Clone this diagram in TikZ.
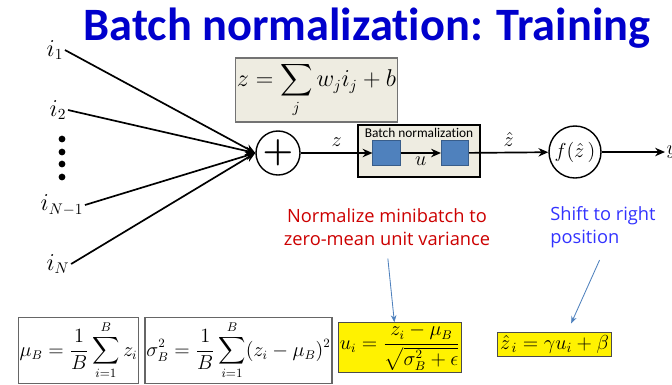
\documentclass[tikz,border=0pt]{standalone}
\usepackage{amsmath,amssymb}
\usepackage{fontspec}
\setmainfont{Carlito}[Ligatures=NoCommon]
\newfontfamily\notefont{Open Sans}
\usetikzlibrary{arrows.meta,positioning}
\definecolor{titleblue}{RGB}{0,0,204}
\definecolor{beige}{RGB}{238,236,225}
\definecolor{boxblue}{RGB}{79,129,189}
\definecolor{boxedge}{RGB}{56,93,138}
\definecolor{notered}{RGB}{204,0,0}
\definecolor{noteblue}{RGB}{51,51,255}

\begin{document}
\begin{tikzpicture}[x=0.025cm, y=-0.025cm,
    arr/.style={-{Stealth[length=7pt,width=6pt]}, line width=1.2pt},
    inp/.style={font=\fontsize{16}{18}\selectfont, inner sep=1pt},
    unit/.style={circle, draw, line width=1pt, inner sep=0pt},
    sq/.style={rectangle, draw=boxedge, fill=boxblue, line width=0.6pt, minimum width=0.68cm, minimum height=0.62cm},
    eqbox/.style={rectangle, draw=black!60, line width=0.8pt, inner sep=1pt, font=\fontsize{13.5}{16}\selectfont},
    hibox/.style={eqbox, fill=yellow, draw=black!70},
    note/.style={-{Stealth[length=5pt,width=4pt]}, draw=boxblue, line width=0.6pt, shorten <=6pt},
    lbl/.style={font=\fontsize{15}{18}\selectfont, inner sep=1pt},
  ]
    \useasboundingbox (0,0) rectangle (672,384);

    % Title
    \node[font=\fontsize{33}{37}\selectfont\bfseries, text=titleblue] (title) at (367,28) {Batch normalization: Training};

    % Inputs
    \node[inp] (i1) at (55,50) {$i_1$};
    \node[inp] (i2) at (58,110) {$i_2$};
    \node[inp] (iN1) at (62,205) {$i_{N-1}$};
    \node[inp] (iN) at (58,264) {$i_N$};
    \foreach \yy in {139,152,164,177}
      \fill (62,\yy) circle (2.4pt);

    % Neuron
    \node[unit, minimum size=1.1cm, font=\fontsize{24}{26}\selectfont\bfseries] (sum) at (278,153) {$\boldsymbol{+}$};
    \node[eqbox, fill=beige, draw=black!55, minimum width=3.83cm, minimum height=1.6cm, font=\fontsize{16}{19}\selectfont] (zeq) at (316.5,90)
      {$\displaystyle z = \sum_j w_j i_j + b$};

    \foreach \src in {i1,i2,iN1,iN}
      \draw[arr] (\src.east) -- (sum.west);

    % Batch normalization block
    \node[rectangle, draw, line width=2pt, fill=beige, minimum width=3.05cm, minimum height=1.3cm] (bn) at (419,151) {};
    \node[font=\fontsize{9.5}{11}\selectfont, inner sep=0pt] (bnlbl) at (419,133) {Batch normalization};
    \node[sq] (sq1) at (386.5,153) {};
    \node[sq] (sq2) at (455,153) {};
    \node[unit, minimum size=1.3cm, font=\fontsize{15}{18}\selectfont] (act) at (575,152) {$f(\hat{z}\,)$};
    \node[lbl, anchor=west] (out) at (665,152) {$y$};

    % Forward path
    \draw[arr] (sum) -- node[lbl, above=3pt] {$z$} (sq1);
    \draw[arr] (sq1) -- node[lbl, below=1pt] {$u$} (sq2);
    \draw[arr] (sq2) -- node[lbl, above=3pt] {$\hat{z}$} (act);
    \draw[arr] (act) -- (out);

    % Notes
    \node[font=\notefont\fontsize{13}{16}\selectfont, text=notered, align=center] (norm) at (387,227)
      {Normalize minibatch to\\zero-mean unit variance};
    \node[font=\notefont\fontsize{13}{16}\selectfont, text=noteblue, align=left] (shift) at (603,227)
      {Shift to right\\position};

    % Equations
    \node[eqbox, minimum width=2.93cm, minimum height=1.63cm] (mu) at (78.5,350.5)
      {$\displaystyle \mu_B = \frac{1}{B}\sum_{i=1}^{B} z_i$};
    \node[eqbox, minimum width=4.53cm, minimum height=1.63cm] (var) at (238.5,350.5)
      {$\displaystyle \sigma_B^2 = \frac{1}{B}\sum_{i=1}^{B}(z_i-\mu_B)^2$};
    \node[hibox, minimum width=2.95cm, minimum height=1.23cm] (ui) at (400,347.5)
      {$\displaystyle u_i = \frac{z_i-\mu_B}{\sqrt{\sigma_B^2+\epsilon}}$};
    \node[hibox, minimum width=2.83cm, minimum height=0.58cm, font=\fontsize{14}{16}\selectfont] (zh) at (554.5,344.5)
      {$\hat{z}_{\,i} = \gamma u_i + \beta$};

    \draw[note] (norm.south) -- ([xshift=-4pt]ui.north);
    \draw[note, shorten >=7pt] (shift.south) -- ([xshift=9pt]zh.north);
  \end{tikzpicture}
\end{document}
